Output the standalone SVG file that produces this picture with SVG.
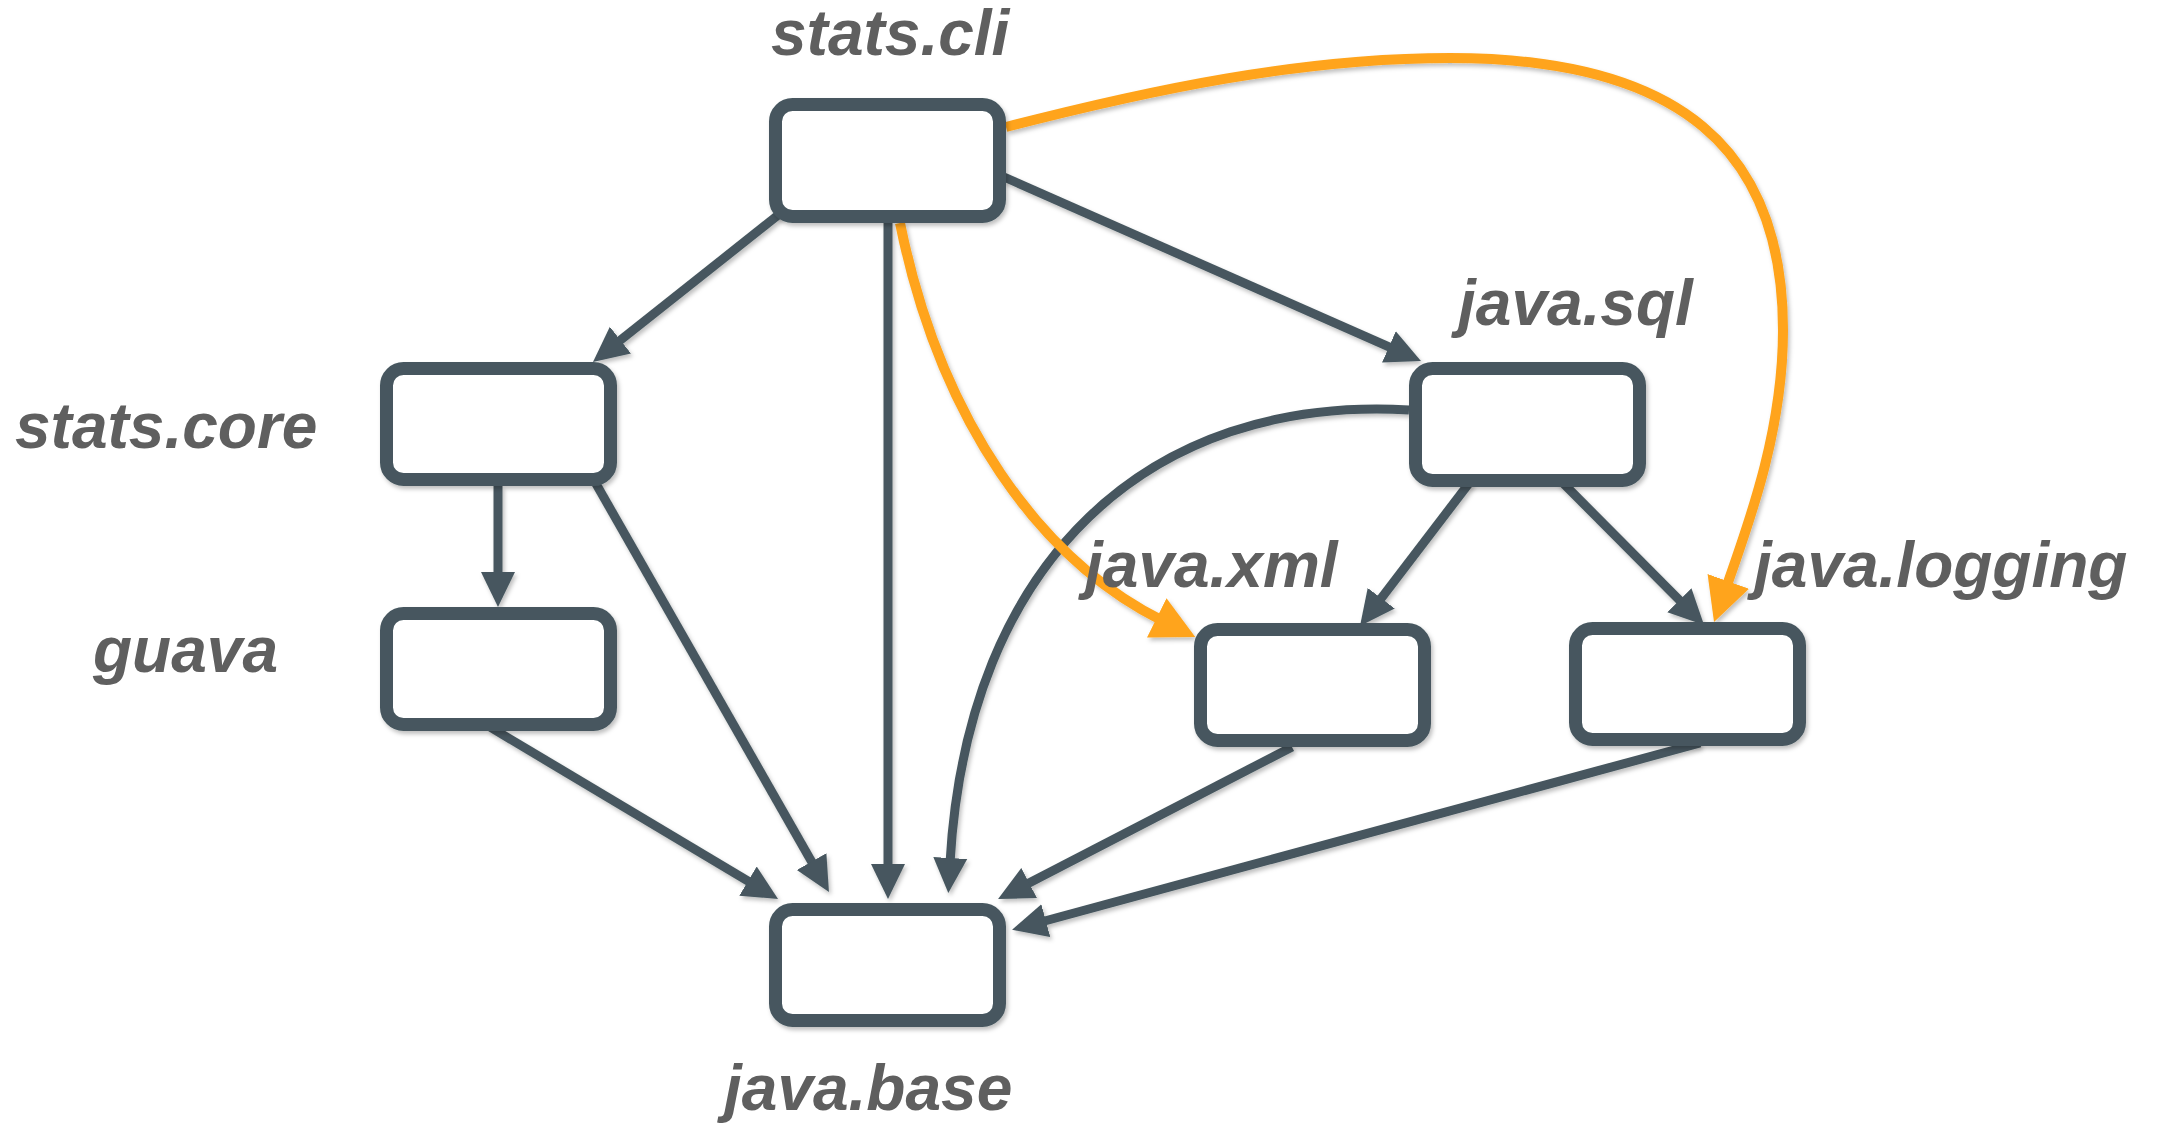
<svg xmlns="http://www.w3.org/2000/svg" width="2164" height="1128" viewBox="0 0 2164 1128">
<style>
.box{fill:#ffffff;stroke:#46575f;stroke-width:13}
.lbl{font-family:"Liberation Sans",Arial,sans-serif;font-weight:bold;font-style:italic;font-size:64px;fill:#5f5f5f}
.dep{fill:none;stroke:#46575f;stroke-width:9;marker-end:url(#ah)}
.hl{fill:none;stroke:#ffa41b;stroke-width:10;marker-end:url(#ahO)}
</style>
<defs>
<filter id="sh" x="-20%" y="-20%" width="140%" height="140%">
<feDropShadow dx="2" dy="3" stdDeviation="2" flood-color="#000" flood-opacity="0.25"/>
</filter>
<marker id="ah" markerUnits="userSpaceOnUse" markerWidth="36" markerHeight="36" viewBox="0 0 36 36" refX="5" refY="18" orient="auto">
<path d="M0,1 L35,18 L0,35 z" fill="#46575f"/>
</marker>
<marker id="ahO" markerUnits="userSpaceOnUse" markerWidth="44" markerHeight="44" viewBox="0 0 44 44" refX="7" refY="22" orient="auto">
<path d="M0,0 L43,22 L0,44 z" fill="#ffa41b"/>
</marker>
</defs>
<rect width="2164" height="1128" fill="#ffffff"/>
<g id="connectors" filter="url(#sh)">
<path class="dep" d="M782,212 L616.5,343.3"/>
<path class="dep" d="M888,223 L888,869"/>
<path class="dep" d="M1004,177 L1393.5,348.9"/>
<path class="dep" d="M595,482 L814.1,865.9"/>
<path class="dep" d="M490,727 L752.3,883.6"/>
<path class="dep" d="M1409,410 C1150,395 967,560 950,863"/>
<path class="dep" d="M1470,482 L1378.2,602.2"/>
<path class="dep" d="M1560,480 L1682.9,603.7"/>
<path class="dep" d="M1292,747 L1024.7,885.3"/>
<path class="dep" d="M1700,743 L1041,922"/>
<path class="dep" d="M498,486 L498,577"/>
<path class="hl" d="M900,223 C940,420 1040,560 1163,621"/>
<path class="hl" d="M1006,127 C1150,90 1300,58 1450,58 C1680,58 1783,150 1783,330 C1783,430 1750,520 1726,588"/>
</g>
<g id="stats.cli">
<rect class="box" x="775.5" y="104.5" width="224" height="112" rx="17" filter="url(#sh)"/>
<text class="lbl" x="771" y="55">stats.cli</text>
</g>
<g id="stats.core">
<rect class="box" x="386.5" y="368.5" width="224" height="111" rx="17" filter="url(#sh)"/>
<text class="lbl" x="15" y="448">stats.core</text>
</g>
<g id="guava">
<rect class="box" x="386.5" y="613.5" width="224" height="111" rx="17" filter="url(#sh)"/>
<text class="lbl" x="93" y="672">guava</text>
</g>
<g id="java.sql">
<rect class="box" x="1415.5" y="368.5" width="224" height="112" rx="17" filter="url(#sh)"/>
<text class="lbl" x="1458" y="325">java.sql</text>
</g>
<g id="java.xml">
<rect class="box" x="1200.5" y="629.5" width="224" height="111" rx="17" filter="url(#sh)"/>
<text class="lbl" x="1085" y="587">java.xml</text>
</g>
<g id="java.logging">
<rect class="box" x="1575.5" y="628.5" width="224" height="111" rx="17" filter="url(#sh)"/>
<text class="lbl" x="1754" y="587">java.logging</text>
</g>
<g id="java.base">
<rect class="box" x="775.5" y="909.5" width="224" height="111" rx="17" filter="url(#sh)"/>
<text class="lbl" x="724" y="1110">java.base</text>
</g>
</svg>
